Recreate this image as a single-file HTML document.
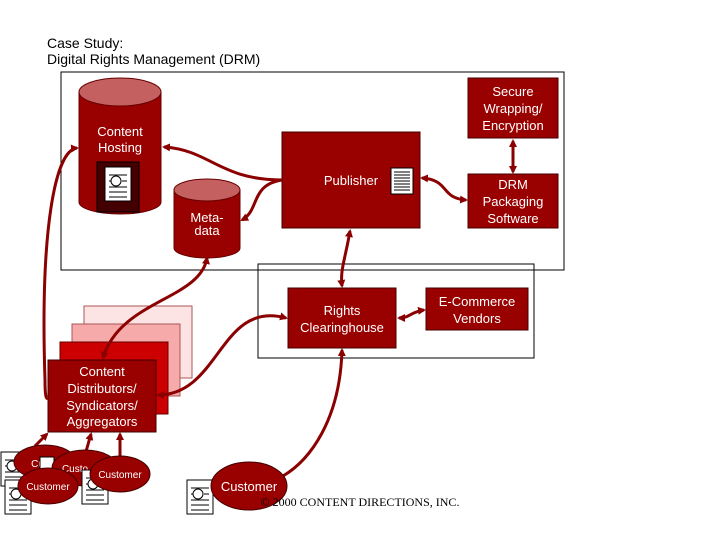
<!DOCTYPE html>
<html><head><style>
body{margin:0;background:#fff}
svg{display:block}
text{font-family:"Liberation Sans",sans-serif;fill:#fff;font-size:13px;text-anchor:middle}
</style></head><body>
<svg width="720" height="540" viewBox="0 0 720 540">
<defs>
<marker id="a" markerWidth="8" markerHeight="8" refX="6" refY="4" orient="auto-start-reverse" markerUnits="userSpaceOnUse"><path d="M0,0 L8,4 L0,8 z" fill="#8b0000"/></marker>
<g id="doc"><rect x="0" y="0" width="26" height="34" fill="#fff" stroke="#000"/><circle cx="11" cy="14" r="5" fill="none" stroke="#000"/><path d="M4,8h18M4,14h2M17,14h5M4,20h18M4,25h18M4,30h18" stroke="#000"/></g>
</defs>
<text x="47" y="48" style="fill:#000;text-anchor:start;font-size:14px">Case Study:</text>
<text x="47" y="64" style="fill:#000;text-anchor:start;font-size:14px">Digital Rights Management (DRM)</text>
<rect x="61" y="72" width="503" height="198" fill="none" stroke="#000"/>
<rect x="258" y="264" width="276" height="94" fill="none" stroke="#000"/>
<!-- content hosting -->
<path d="M79,92 V202 A41,12 0 0 0 161,202 V92" fill="#990000" stroke="#600"/>
<ellipse cx="120" cy="92" rx="41" ry="14" fill="#c46060" stroke="#600"/>
<text x="120" y="136">Content</text><text x="120" y="152">Hosting</text>
<rect x="97" y="162" width="42" height="50" fill="#400" stroke="#000"/>
<use href="#doc" x="105" y="167"/>
<!-- metadata -->
<path d="M174,190 V248 A33,10 0 0 0 240,248 V190" fill="#990000" stroke="#600"/>
<ellipse cx="207" cy="190" rx="33" ry="11" fill="#c46060" stroke="#600"/>
<text x="207" y="222">Meta-</text><text x="207" y="235">data</text>
<!-- boxes -->
<rect x="282" y="132" width="138" height="96" fill="#990000" stroke="#400"/>
<text x="351" y="185">Publisher</text>
<rect x="391" y="168" width="22" height="26" fill="#fff" stroke="#000"/>
<path d="M394,172h16M394,175h16M394,178h16M394,181h16M394,184h16M394,187h16M394,190h16" stroke="#000"/>
<rect x="468" y="78" width="90" height="60" fill="#990000" stroke="#400"/>
<text x="513" y="96">Secure</text><text x="513" y="113">Wrapping/</text><text x="513" y="130">Encryption</text>
<rect x="468" y="174" width="90" height="54" fill="#990000" stroke="#400"/>
<text x="513" y="189">DRM</text><text x="513" y="206">Packaging</text><text x="513" y="223">Software</text>
<rect x="288" y="288" width="108" height="60" fill="#990000" stroke="#400"/>
<text x="342" y="315">Rights</text><text x="342" y="332">Clearinghouse</text>
<rect x="426" y="288" width="102" height="42" fill="#990000" stroke="#400"/>
<text x="477" y="306">E-Commerce</text><text x="477" y="323">Vendors</text>
<!-- distributor stack -->
<rect x="84" y="306" width="108" height="72" fill="#fde4e4" stroke="#a55"/>
<rect x="72" y="324" width="108" height="72" fill="#f7aaaa" stroke="#a55"/>
<rect x="60" y="342" width="108" height="72" fill="#cc0000" stroke="#600"/>
<rect x="48" y="360" width="108" height="72" fill="#990000" stroke="#400"/>
<text x="102" y="376">Content</text><text x="102" y="393">Distributors/</text><text x="102" y="410">Syndicators/</text><text x="102" y="426">Aggregators</text>
<!-- connectors -->
<g stroke="#8b0000" stroke-width="3" fill="none">
<path d="M164,147 C210,150 220,180 282,180" marker-start="url(#a)"/>
<path d="M282,180 C250,185 260,210 242,220" marker-end="url(#a)"/>
<path d="M422,178 C450,180 440,198 466,200" marker-start="url(#a)" marker-end="url(#a)"/>
<path d="M513,141 V172" marker-start="url(#a)" marker-end="url(#a)"/>
<path d="M350,231 C345,260 340,270 342,286" marker-start="url(#a)" marker-end="url(#a)"/>
<path d="M399,318 C410,318 410,312 424,310" marker-start="url(#a)" marker-end="url(#a)"/>
<path d="M207,258 C200,300 120,300 103,358" marker-start="url(#a)" marker-end="url(#a)"/>
<path d="M158,395 C220,395 220,300 286,318" marker-start="url(#a)" marker-end="url(#a)"/>
<path d="M77,148 C55,150 40,230 45,380 C45,395 46,400 48,398" marker-start="url(#a)"/>
<path d="M283,476 C310,460 340,420 342,350" marker-end="url(#a)"/>
<path d="M35,446 L47,434" marker-end="url(#a)"/>
<path d="M85,455 L91,434" marker-end="url(#a)"/>
<path d="M120,458 L120,434" marker-end="url(#a)"/>
</g>
<!-- customers -->
<use href="#doc" x="1" y="452"/>
<use href="#doc" x="5" y="480"/>
<ellipse cx="45" cy="462" rx="31" ry="17" fill="#990000" stroke="#400"/>
<text x="40" y="467" style="font-size:10px">Cus</text>
<rect x="40" y="457" width="14" height="14" fill="#fff" stroke="#000"/>
<ellipse cx="85" cy="468" rx="33" ry="18" fill="#990000" stroke="#400"/>
<text x="75" y="472" style="font-size:10px">Custo</text>
<ellipse cx="48" cy="486" rx="30" ry="18" fill="#990000" stroke="#400"/>
<text x="48" y="490" style="font-size:10px">Customer</text>
<use href="#doc" x="82" y="470"/>
<ellipse cx="120" cy="474" rx="30" ry="18" fill="#990000" stroke="#400"/>
<text x="120" y="478" style="font-size:10px">Customer</text>
<use href="#doc" x="187" y="480"/>
<ellipse cx="249" cy="486" rx="38" ry="24" fill="#990000" stroke="#400"/>
<text x="249" y="491">Customer</text>
<text x="360" y="506" style="fill:#000;font-family:'Liberation Serif',serif;font-size:12px">© 2000 CONTENT DIRECTIONS, INC.</text>
</svg>
</body></html>
